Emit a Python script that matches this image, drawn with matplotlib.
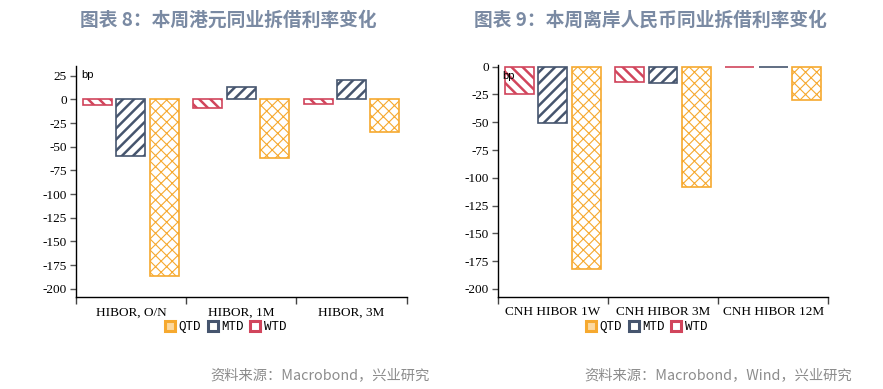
import matplotlib
matplotlib.use("Agg")
import matplotlib.pyplot as plt
from matplotlib.lines import Line2D
import numpy as np

# ---- data ----
series_names = ["WTD", "MTD", "QTD"]
legend_order = ["QTD", "MTD", "WTD"]

hkd_categories = ["HIBOR, O/N", "HIBOR, 1M", "HIBOR, 3M"]
hkd_wtd = [-6, -9.5, -4.5]
hkd_mtd = [-60, 13, 20]
hkd_qtd = [-187, -62, -35]

cnh_categories = ["CNH HIBOR 1W", "CNH HIBOR 3M", "CNH HIBOR 12M"]
cnh_wtd = [-25, -14, -0.5]
cnh_mtd = [-51, -15, -0.5]
cnh_qtd = [-182, -108.5, -30]

y_ticks_hkd = [25, 0, -25, -50, -75, -100, -125, -150, -175, -200]
y_ticks_cnh = [0, -25, -50, -75, -100, -125, -150, -175, -200]

title_hkd = "图表 8：本周港元同业拆借利率变化"
title_cnh = "图表 9：本周离岸人民币同业拆借利率变化"
source_hkd = "资料来源：Macrobond，兴业研究"
source_cnh = "资料来源：Macrobond，Wind，兴业研究"

# ---- styles ----
colors = {"WTD": "#d1455c", "MTD": "#46556e", "QTD": "#f6a92f"}
hatches = {"WTD": "\\\\\\", "MTD": "///", "QTD": "xxx"}
hatch_lw = {"WTD": 1.8, "MTD": 1.8, "QTD": 0.8}
offsets = {"WTD": -0.302, "MTD": 0.0, "QTD": 0.302}
bar_w = 0.263

W, H = 883, 389
fig = plt.figure(figsize=(W / 100, H / 100), dpi=100)

serif = ["Liberation Serif", "DejaVu Serif"]
cjk = ["Noto Sans CJK SC", "DejaVu Sans"]


def draw(ax, cats, data, ylim, yticks):
    x = np.arange(len(cats))
    for name in series_names:
        plt.rcParams["hatch.linewidth"] = hatch_lw[name]
        bars = ax.bar(x + offsets[name], data[name], width=bar_w,
                      facecolor="white", edgecolor=colors[name],
                      hatch=hatches[name], linewidth=1.2, zorder=2)
        for b in bars:
            if hasattr(b, "set_hatch_linewidth"):
                b.set_hatch_linewidth(hatch_lw[name])
    ax.set_xlim(-0.5, len(cats) - 0.5)
    ax.set_ylim(*ylim)
    ax.set_yticks(yticks)
    ax.set_yticklabels([str(t) for t in yticks], fontfamily=serif, fontsize=9.5)
    ax.set_xticks(x)
    ax.set_xticklabels(cats, fontfamily=serif, fontsize=9.5)
    ax.set_xticks(np.arange(len(cats) + 1) - 0.5, minor=True)
    ax.tick_params(axis="x", which="major", length=0, pad=6.5)
    ax.tick_params(axis="x", which="minor", length=5, width=1,
                   direction="out", color="#444444")
    ax.tick_params(axis="y", length=4.5, width=1, pad=2, colors="black")
    ax.tick_params(axis="y", color="#555555")
    for s in ["top", "right"]:
        ax.spines[s].set_visible(False)
    for s in ["left", "bottom"]:
        ax.spines[s].set_linewidth(1.0)
        ax.spines[s].set_color("black")


ax1 = fig.add_axes([75.7 / W, 1 - 297.3 / H, 331 / W, (297.3 - 66) / H])
draw(ax1, hkd_categories, {"WTD": hkd_wtd, "MTD": hkd_mtd, "QTD": hkd_qtd},
     (-209, 35.2), y_ticks_hkd)
ax1.text(81.5 / W, 1 - 75 / H, "bp", transform=fig.transFigure, fontsize=8,
         family="Liberation Sans", va="center", ha="left", zorder=5)

ax2 = fig.add_axes([497.7 / W, 1 - 297.3 / H, 330.6 / W, (297.3 - 65) / H])
draw(ax2, cnh_categories, {"WTD": cnh_wtd, "MTD": cnh_mtd, "QTD": cnh_qtd},
     (-207.5, 1.5), y_ticks_cnh)
ax2.text(502.5 / W, 1 - 76 / H, "bp", transform=fig.transFigure, fontsize=8,
         family="Liberation Sans", va="center", ha="left", zorder=5)

# titles
title_color = "#7a8aa3"
fig.text(228 / W, 1 - 20 / H, title_hkd, ha="center", va="center",
         fontsize=13.5, fontweight="bold", color=title_color, family=cjk)
fig.text(650 / W, 1 - 20 / H, title_cnh, ha="center", va="center",
         fontsize=13.5, fontweight="bold", color=title_color, family=cjk)

# sources
fig.text(430 / W, 1 - 375 / H, source_hkd, ha="right", va="center",
         fontsize=10.3, color="#8c8c8c", family=cjk)
fig.text(852 / W, 1 - 375 / H, source_cnh, ha="right", va="center",
         fontsize=10.3, color="#8c8c8c", family=cjk)

# legends
inner = {"QTD": "#fcd9a0", "MTD": "white", "WTD": "white"}


def handles():
    return [Line2D([], [], linestyle="none", marker="s", markersize=7.5,
                   markerfacecolor=inner[n], markeredgecolor=colors[n],
                   markeredgewidth=2.2) for n in legend_order]


for cx in (226, 647):
    fig.legend(handles(), legend_order, loc="center",
               bbox_to_anchor=(cx / W, 1 - 327 / H), ncol=3, frameon=False,
               prop={"family": "Liberation Mono", "size": 9},
               handlelength=0.7, handletextpad=0.35, columnspacing=0.55,
               borderpad=0, borderaxespad=0)

fig.savefig("out.png", dpi=100)
